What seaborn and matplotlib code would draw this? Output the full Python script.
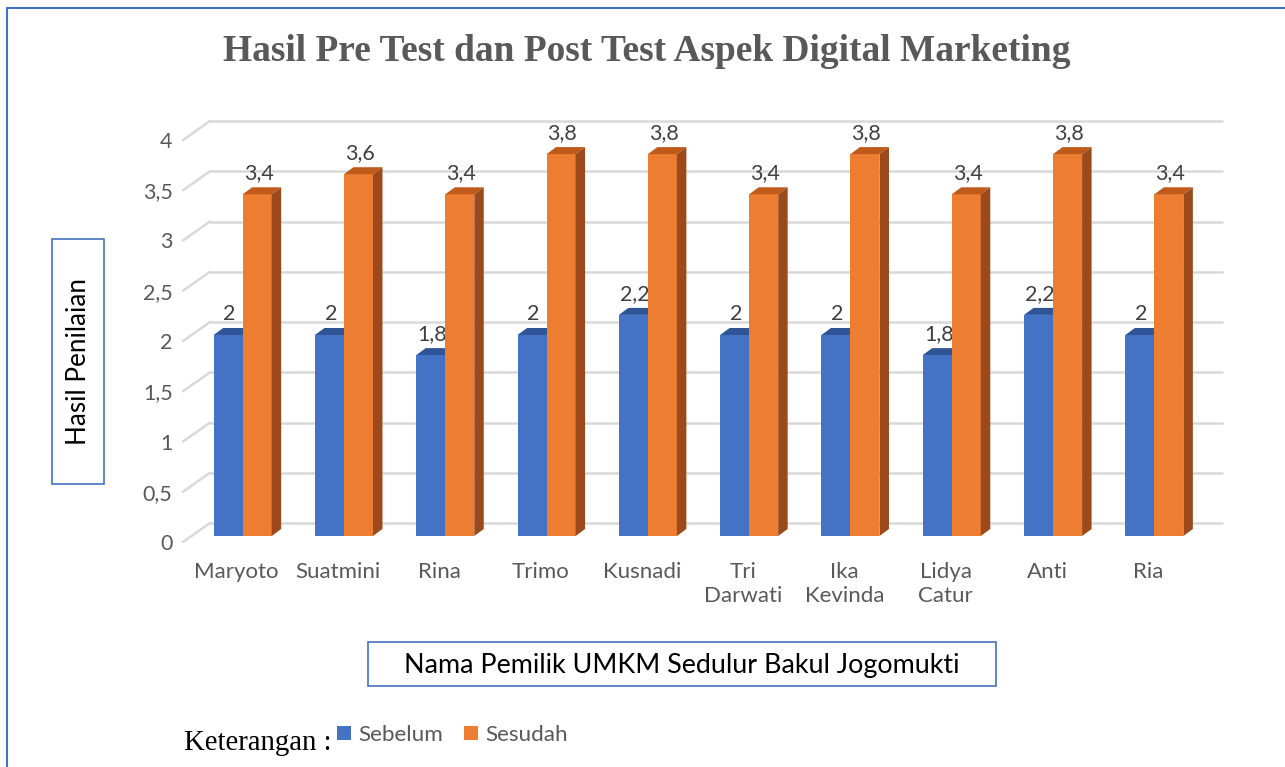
import matplotlib
matplotlib.use("Agg")
import matplotlib.pyplot as plt
from matplotlib.patches import Polygon, Rectangle, Patch
from matplotlib.transforms import ScaledTranslation
import seaborn as sns
import pandas as pd

# ---- data ----
names = ["Maryoto", "Suatmini", "Rina", "Trimo", "Kusnadi",
         "Tri\nDarwati", "Ika\nKevinda", "Lidya\nCatur", "Anti", "Ria"]
sebelum = [2, 2, 1.8, 2, 2.2, 2, 2, 1.8, 2.2, 2]
sesudah = [3.4, 3.6, 3.4, 3.8, 3.8, 3.4, 3.8, 3.4, 3.8, 3.4]
series_names = ["Sebelum", "Sesudah"]
yticks = [0, 0.5, 1, 1.5, 2, 2.5, 3, 3.5, 4]
ytick_labels = ["0", "0,5", "1", "1,5", "2", "2,5", "3", "3,5", "4"]
title = "Hasil Pre Test dan Post Test Aspek Digital Marketing"
xlabel = "Nama Pemilik UMKM Sedulur Bakul Jogomukti"
ylabel = "Hasil Penilaian"

BLUE, ORANGE = "#4472C4", "#ED7D31"
TOPS = ["#2F5597", "#BF5A1B"]
SIDES = ["#2F5597", "#9C4A1B"]
GRID = "#D9D9D9"
TXT = "#595959"

sns.set_theme(style="white")
plt.rcParams["font.family"] = ["Lato", "DejaVu Sans"]

W, H = 1285, 767
fig = plt.figure(figsize=(W / 100, H / 100), dpi=100)
fig.patch.set_facecolor("white")

# axes: bar front plane
ax_l, ax_r, ax_b, ax_t = 192, 1205, 536, 134
ax = fig.add_axes([ax_l / W, 1 - ax_b / H, (ax_r - ax_l) / W, (ax_b - ax_t) / H])
ax.set_facecolor("none")

df = pd.DataFrame({
    "Nama": names * 2,
    "Nilai": sebelum + sesudah,
    "Keterangan": [series_names[0]] * len(names) + [series_names[1]] * len(names),
})
sns.barplot(data=df, x="Nama", y="Nilai", hue="Keterangan", palette=[BLUE, ORANGE],
            width=0.573, saturation=1, linewidth=0, edgecolor="none", legend=False,
            ax=ax, zorder=3)
ax.set_xlim(-0.5, len(names) - 0.5)
ax.set_ylim(0, 4)

ppx = (ax_r - ax_l) / len(names)   # pixels per x unit
ppy = (ax_b - ax_t) / 4            # pixels per y unit

# back wall offset and front floor offset (pixels)
bdx, bdy = 18 / ppx, 13 / ppy
fdx, fdy = -9 / ppx, -6 / ppy

for v in yticks:
    ax.plot([-0.5 + bdx, len(names) - 0.5 + bdx], [v + bdy, v + bdy], color=GRID,
            lw=1.8, clip_on=False, zorder=0, solid_capstyle="butt")
    ax.plot([-0.5 + fdx, -0.5 + bdx], [v + fdy, v + bdy], color=GRID,
            lw=1.8, clip_on=False, zorder=0)

# 3D faces
ddx, ddy = 9.5 / ppx, 7 / ppy
for i, cont in enumerate(ax.containers):
    for p in cont.patches:
        x0, w, h = p.get_x(), p.get_width(), p.get_height()
        top = Polygon([(x0, h), (x0 + w, h), (x0 + w + ddx, h + ddy), (x0 + ddx, h + ddy)],
                      closed=True, facecolor=TOPS[i], edgecolor="none",
                      zorder=2.5 if i == 0 else 3.5, clip_on=False)
        side = Polygon([(x0 + w, 0), (x0 + w + ddx, ddy), (x0 + w + ddx, h + ddy), (x0 + w, h)],
                       closed=True, facecolor=SIDES[i], edgecolor="none",
                       zorder=2.5 if i == 0 else 3.5, clip_on=False)
        ax.add_patch(top)
        ax.add_patch(side)
        lab = ("%g" % h).replace(".", ",")
        ax.annotate(lab, (x0 + w / 2, h), xytext=(1, 15), textcoords="offset points",
                    ha="center", va="center", fontsize=15.5, color="#404040",
                    zorder=2.4 if i == 0 else 5, annotation_clip=False)

for s in ax.spines.values():
    s.set_visible(False)
ax.grid(False)
ax.set_xlabel("")
ax.set_ylabel("")
ax.set_yticks(yticks)
ax.set_yticklabels(ytick_labels, fontsize=15.5, color=TXT)
ax.tick_params(axis="y", length=0, pad=14)
ax.tick_params(axis="x", length=0, pad=19)
ax.set_xticks(range(len(names)))
ax.set_xticklabels(names, fontsize=16, color=TXT, linespacing=1.2)
for t in ax.get_yticklabels():
    t.set_transform(t.get_transform() + ScaledTranslation(0, -6 / 100, fig.dpi_scale_trans))
for t in ax.get_xticklabels():
    t.set_transform(t.get_transform() + ScaledTranslation(-6 / 100, 0, fig.dpi_scale_trans))

# outer frame (top and left)
fig.add_artist(plt.Line2D([7 / W, 1], [1 - 8 / H, 1 - 8 / H], color=BLUE, lw=1.5))
fig.add_artist(plt.Line2D([7 / W, 7 / W], [0, 1 - 8 / H], color=BLUE, lw=1.5))

# title
fig.text(647 / W, 1 - 61 / H, title, ha="center", va="baseline", fontsize=26.9,
         fontweight="bold", color=TXT, family=["Liberation Serif", "DejaVu Serif"])

# y label box
fig.add_artist(Rectangle((52 / W, 1 - 484 / H), 52 / W, 245 / H, transform=fig.transFigure,
                         facecolor="white", edgecolor=BLUE, lw=1.2))
fig.text(79 / W, 1 - 361 / H, ylabel, rotation=90, ha="center", va="center",
         fontsize=18.8, color="black")

# x label box
fig.add_artist(Rectangle((368 / W, 1 - 686 / H), 628 / W, 44 / H, transform=fig.transFigure,
                         facecolor="white", edgecolor=BLUE, lw=1.2))
fig.text(682 / W, 1 - 665 / H, xlabel, ha="center", va="center", fontsize=19.4, color="black")

# legend
fig.text(184 / W, 1 - 750 / H, "Keterangan :", ha="left", va="baseline", fontsize=20.7,
         color="black", family=["Liberation Serif", "DejaVu Serif"])
handles = [Patch(facecolor=c.patches[0].get_facecolor(), edgecolor="none") for c in ax.containers]
fig.legend(handles, series_names, loc="center left", bbox_to_anchor=(337 / W, 1 - 735 / H),
           ncol=2, frameon=False, fontsize=16.2, labelcolor=TXT, handlelength=0.62,
           handleheight=0.62, handletextpad=0.32, columnspacing=0.95, borderpad=0,
           borderaxespad=0)

fig.savefig("out.png", dpi=100)
